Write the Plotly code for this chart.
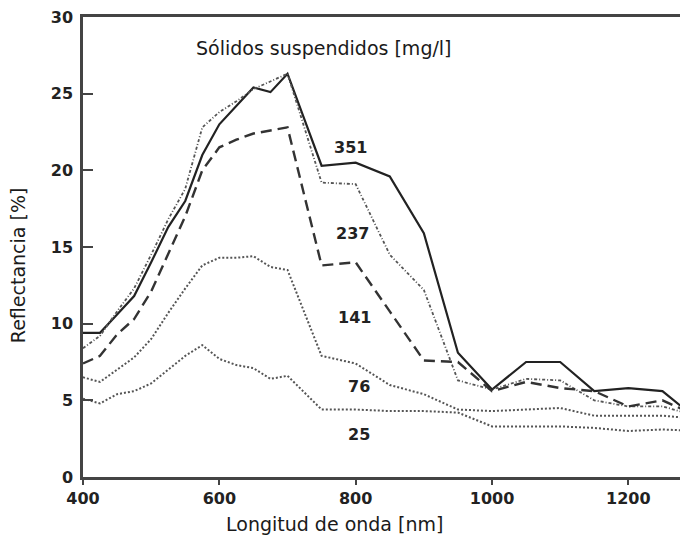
import plotly.graph_objects as go

# Wavelengths (nm)
wavelength = [400, 425, 450, 475, 500, 525, 550, 575, 600, 625, 650, 675, 700,
              750, 800, 850, 900, 950, 1000, 1050, 1100, 1150, 1200, 1250, 1300]

# Reflectance (%) for each suspended-solids concentration (mg/l)
r351 = [9.4, 9.4, 10.6, 11.8, 14.0, 16.3, 18.0, 21.0, 23.0, 24.2, 25.4, 25.1, 26.3,
        20.3, 20.5, 19.6, 15.9, 8.1, 5.7, 7.5, 7.5, 5.6, 5.8, 5.6, 3.8]
r237 = [8.4, 9.2, 10.8, 12.3, 14.5, 16.8, 18.8, 22.8, 23.8, 24.5, 25.3, 25.8, 26.3,
        19.2, 19.1, 14.5, 12.2, 6.3, 5.7, 6.4, 6.3, 5.0, 4.6, 4.6, 4.0]
r141 = [7.4, 7.9, 9.3, 10.3, 12.1, 14.6, 17.0, 20.0, 21.5, 22.0, 22.4, 22.6, 22.8,
        13.8, 14.0, 10.8, 7.6, 7.5, 5.6, 6.2, 5.8, 5.6, 4.6, 5.0, 4.0]
r76 = [6.5, 6.2, 7.0, 7.8, 9.0, 10.7, 12.3, 13.8, 14.3, 14.3, 14.4, 13.7, 13.5,
       7.9, 7.4, 6.0, 5.4, 4.4, 4.3, 4.4, 4.5, 4.0, 4.0, 4.0, 3.8]
r25 = [5.1, 4.8, 5.4, 5.6, 6.1, 7.0, 7.9, 8.6, 7.7, 7.3, 7.1, 6.4, 6.6,
       4.4, 4.4, 4.3, 4.3, 4.2, 3.3, 3.3, 3.3, 3.2, 3.0, 3.1, 3.0]

series_names = ["351", "237", "141", "76", "25"]
series_values = [r351, r237, r141, r76, r25]

# Label positions for the concentration labels
label_x = [792, 795, 798, 805, 805]
label_y = [21.5, 15.9, 10.4, 5.87, 2.75]

x_ticks = [400, 600, 800, 1000, 1200]
y_ticks = [0, 5, 10, 15, 20, 25, 30]

styles = [
    dict(color="#222222", width=2.2, dash="solid"),
    dict(color="#555555", width=1.8, dash="3px,2px,1px,2px"),
    dict(color="#333333", width=2.4, dash="11px,6px"),
    dict(color="#555555", width=2.0, dash="2px,2px"),
    dict(color="#555555", width=2.0, dash="2px,2px"),
]

fig = go.Figure()
for name, vals, st in zip(series_names, series_values, styles):
    fig.add_trace(go.Scatter(x=wavelength, y=vals, mode="lines", name=name,
                             line=st, showlegend=False))

tick_font = dict(family="DejaVu Sans", size=16, color="#222222", weight="bold")

for t, lx, ly in zip(series_names, label_x, label_y):
    fig.add_annotation(x=lx, y=ly, text=t, showarrow=False,
                       font=tick_font, xanchor="center", yanchor="middle")

fig.add_annotation(x=754, y=28.0, text="Sólidos suspendidos [mg/l]", showarrow=False,
                   font=dict(family="DejaVu Sans", size=19, color="#1a1a1a"),
                   xanchor="center", yanchor="middle")
fig.add_annotation(xref="paper", yref="paper", x=0.4165, y=-0.102,
                   text="Longitud de onda [nm]", showarrow=False,
                   font=dict(family="DejaVu Sans", size=19, color="#1a1a1a"),
                   xanchor="center", yanchor="middle")
fig.add_annotation(xref="paper", yref="paper", x=-0.107, y=0.461,
                   text="Reflectancia [%]", showarrow=False, textangle=-90,
                   font=dict(family="DejaVu Sans", size=19, color="#1a1a1a"),
                   xanchor="center", yanchor="middle")

fig.update_layout(
    width=680, height=531,
    margin=dict(l=75, r=0, t=9, b=62),
    paper_bgcolor="white", plot_bgcolor="white",
    xaxis=dict(range=[400, 1287.5], tickvals=x_ticks, ticks="outside", ticklen=5,
               tickwidth=2, tickcolor="#444444",
               showline=True, linecolor="#444444", linewidth=2.5, mirror=True,
               showgrid=False, zeroline=False, tickfont=tick_font,
               ticklabeloverflow="allow"),
    yaxis=dict(range=[0, 30], tickvals=y_ticks, ticks="inside", ticklen=10,
               tickwidth=2, tickcolor="#444444",
               showline=True, linecolor="#444444", linewidth=2.5,
               showgrid=False, zeroline=False, tickfont=tick_font,
               ticklabelstandoff=4, ticklabeloverflow="allow"),
)

fig.write_html("out.html")
